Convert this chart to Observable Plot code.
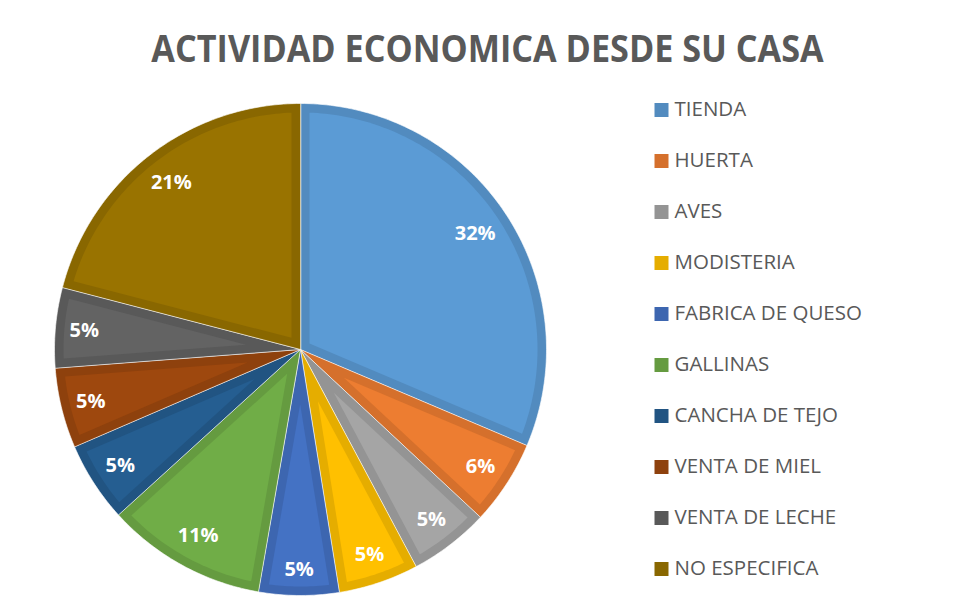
<!DOCTYPE html>
<html><head><meta charset="utf-8">
<script src="https://cdn.jsdelivr.net/npm/d3@7"></script>
<script src="https://cdn.jsdelivr.net/npm/@observablehq/plot@0.6"></script>
<style>
html,body{margin:0;padding:0;background:#fff;}
#root{position:relative;width:958px;height:610px;overflow:hidden;font-family:"Open Sans",sans-serif;}
#title{position:absolute;left:0;width:975px;top:28px;text-align:center;font-weight:700;font-size:38px;color:#595959;line-height:1;white-space:nowrap;transform:scaleX(0.9);transform-origin:487.5px 0;}
#pie{position:absolute;left:0;top:90px;}
#legend{position:absolute;left:654px;top:80px;}
</style></head>
<body><div id="root"><div id="title">ACTIVIDAD ECONOMICA DESDE SU CASA</div><div id="pie"></div><div id="legend"></div></div>
<script>
const categories = ["TIENDA","HUERTA","AVES","MODISTERIA","FABRICA DE QUESO","GALLINAS","CANCHA DE TEJO","VENTA DE MIEL","VENTA DE LECHE","NO ESPECIFICA"];
const values = [31.6, 5.6, 5.3, 5.3, 5.3, 10.6, 5.3, 5.3, 5.3, 21.1];
const baseColors = ["#5B9BD5","#ED7D31","#A5A5A5","#FFC000","#4472C4","#70AD47","#255E91","#9E480E","#636363","#997300"];

const rows = categories.map((cat, i) => ({cat, value: values[i], base: baseColors[i], dark: d3.color(baseColors[i]).darker(0.3).formatHex()}));
const byCat = new Map(rows.map(r => [r.cat, r]));

const PX = 246; // pixels per unit radius
const LABEL_FS = 20;
const R = 1, inset = 9 / PX;
const arcs = d3.pie().sort(null).value(d => d.value)(rows);
const pt = (a, rho) => [rho * Math.sin(a), rho * Math.cos(a)];
const outer = [], inner = [], labels = [];
arcs.forEach(a => {
  const cat = a.data.cat;
  const span = a.endAngle - a.startAngle;
  const n = Math.max(8, Math.ceil(span / (Math.PI / 180)));
  outer.push({cat, x: 0, y: 0});
  for (let k = 0; k <= n; k++) {
    const [x, y] = pt(a.startAngle + span * k / n, R);
    outer.push({cat, x, y});
  }
  const h = span / 2, m = a.startAngle + h;
  const [ax, ay] = pt(m, inset / Math.sin(h));
  inner.push({cat, x: ax, y: ay});
  const ri = R - inset, da = Math.asin(inset / ri);
  const s = a.startAngle + da, e = a.endAngle - da;
  for (let k = 0; k <= n; k++) {
    const [x, y] = pt(s + (e - s) * k / n, ri);
    inner.push({cat, x, y});
  }
  // "inside end" label: keep the label box a fixed gap inside the rim
  const text = Math.round(a.data.value) + "%";
  const hw = text.length * 0.6 * LABEL_FS / 2, hh = LABEL_FS / 2;
  const ext = Math.abs(hw * Math.sin(m)) + Math.abs(hh * Math.cos(m));
  const [lx, ly] = pt(m, (PX - 16 - ext) / PX);
  labels.push({cat, x: lx, y: ly, text});
});

const pie = Plot.plot({
  width: 600, height: 520, margin: 0,
  x: {domain: [-300 / PX, 300 / PX], axis: null},
  y: {domain: [-261 / PX, 259 / PX], axis: null},
  color: {type: "identity"},
  style: {fontFamily: "Open Sans", background: "white"},
  marks: [
    Plot.line(outer, {x: "x", y: "y", z: "cat", fill: d => byCat.get(d.cat).dark, stroke: "white", strokeWidth: 1, strokeOpacity: 0.6, curve: "linear-closed"}),
    Plot.line(inner, {x: "x", y: "y", z: "cat", fill: d => byCat.get(d.cat).base, stroke: "none", curve: "linear-closed"}),
    Plot.text(labels, {x: "x", y: "y", text: "text", fill: "white", fontWeight: 700, fontSize: LABEL_FS})
  ]
});
document.getElementById("pie").appendChild(pie);

const legend = Plot.plot({
  width: 300, height: 515, margin: 0,
  y: {type: "band", domain: categories, axis: null, padding: 0},
  color: {type: "identity"},
  style: {fontFamily: "Open Sans", background: "transparent"},
  marks: [
    Plot.dot(rows, {y: "cat", frameAnchor: "left", dx: 7, dy: 1, symbol: "square", r: 7.9, fill: "dark", stroke: null}),
    Plot.text(rows, {y: "cat", text: "cat", frameAnchor: "left", dx: 20, textAnchor: "start", fill: "#595959", fontSize: 20.5})
  ]
});
document.getElementById("legend").appendChild(legend);
</script>
</body></html>
